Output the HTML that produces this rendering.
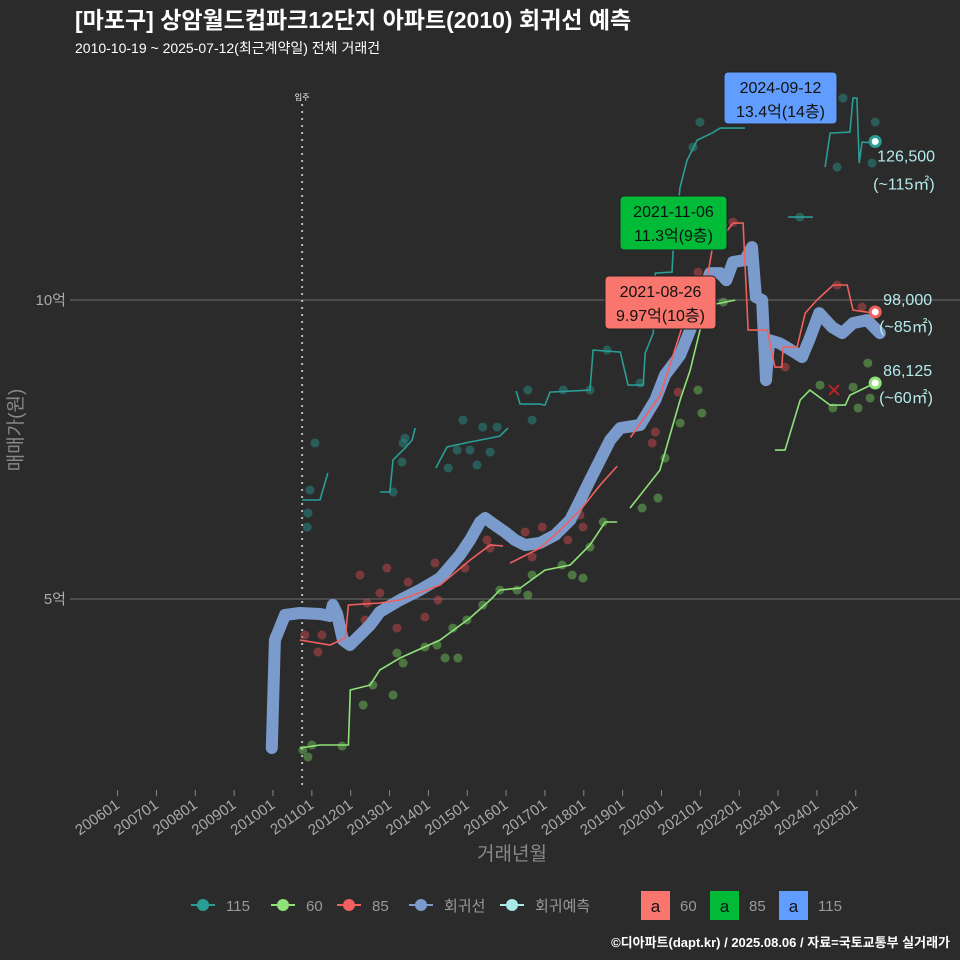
<!DOCTYPE html>
<html><head><meta charset="utf-8">
<style>
html,body{margin:0;padding:0;background:#2b2b2b;}
svg{display:block;font-family:"Liberation Sans","Noto Sans CJK KR",sans-serif;}
</style></head>
<body>
<svg id="chart" width="960" height="960" viewBox="0 0 960 960">
<rect width="960" height="960" fill="#2b2b2b"/>
<text x="75" y="28" fill="#ffffff" font-size="23" font-weight="bold">[마포구] 상암월드컵파크12단지 아파트(2010) 회귀선 예측</text>
<text x="75" y="53" fill="#ffffff" font-size="14">2010-10-19 ~ 2025-07-12(최근계약일) 전체 거래건</text>
<g id="grid"></g>
<g id="marks"></g>
<text x="22" y="430" fill="#888" font-size="19" transform="rotate(-90 22 430)" text-anchor="middle">매매가(원)</text>
<text x="512" y="860" fill="#888" font-size="19" text-anchor="middle">거래년월</text>
<g id="legend"></g>
<text x="950" y="947" fill="#ffffff" font-size="13" font-weight="bold" text-anchor="end">©디아파트(dapt.kr) / 2025.08.06 / 자료=국토교통부 실거래가</text>
</svg>
<script>
// ---- data (year as decimal, value in 만원) ----
const xTickYears=[2006,2007,2008,2009,2010,2011,2012,2013,2014,2015,2016,2017,2018,2019,2020,2021,2022,2023,2024,2025];
const yTickValues=[50000,100000];
const yTickLabels=["5억","10억"];
const regT=[2009.97,2010.05,2010.31,2010.69,2011.21,2011.47,2011.54,2011.65,2011.80,2011.98,2012.24,2012.50,2012.75,2013.27,2013.78,2014.30,2014.81,2015.07,2015.33,2015.46,2015.71,2015.97,2016.23,2016.49,2016.87,2017.26,2017.65,2017.91,2018.16,2018.42,2018.68,2018.94,2019.45,2019.84,2020.09,2020.48,2020.74,2020.99,2021.25,2021.51,2021.67,2021.84,2022.15,2022.33,2022.43,2022.59,2022.69,2022.77,2023.03,2023.21,2023.62,2023.80,2024.06,2024.39,2024.65,2024.93,2025.29,2025.62];
const regV=[25080,43140,47320,47660,47490,47160,49000,47490,43140,42310,43980,45650,47830,49830,51500,53510,57360,59870,62880,63540,62370,61200,59870,59030,59360,60700,63210,66560,69900,73240,76590,78600,79100,83280,87460,90800,94980,100000,104500,104500,103330,106340,106680,108850,100490,100000,86610,93300,92800,92130,90460,93300,97810,95470,94470,96140,96640,94470];
const t115=[2010.75,2011.21,2011.41,null,2012.75,2013.01,2013.09,2013.40,2013.58,2013.66,null,2014.19,2014.48,2015.07,2015.59,2015.84,2016.05,null,2016.26,2016.36,2016.87,2017.00,2017.13,2018.16,2018.24,2018.94,2019.14,2019.53,2019.58,2019.79,2019.84,2020.27,2020.30,2020.48,2020.66,2020.92,2021.30,2021.51,2022.15,null,2023.26,2023.90,null,2024.21,2024.34,2024.85,2024.93,2025.03,2025.09,2025.16,2025.50];
const v115=[66550,66550,71060,null,67890,67890,73240,75250,76580,78590,null,71900,75410,76250,76910,77250,78590,null,84770,82600,82600,82430,84600,84940,91630,91290,85770,85770,91120,94470,104500,104670,108350,118880,123390,126740,127910,128750,128750,null,113860,113860,null,122220,127910,128080,133760,133760,122890,126400,126240];
const t85=[2010.69,2011.47,2011.86,2011.94,2012.75,2013.27,2014.30,2015.07,2015.59,2015.92,null,2016.10,2016.87,2017.39,2017.91,2018.42,2018.86,null,2019.20,2019.97,2020.53,2021.20,2021.30,2021.84,2022.10,2022.23,2022.72,2022.92,2023.10,2023.13,2023.49,2023.70,2024.00,2024.42,2024.78,2024.93,2025.45];
const v85=[43140,42310,43470,49000,49330,49830,52330,56510,59030,58860,null,56010,58520,61530,64870,69050,72230,null,77000,84100,95470,104500,108350,112860,112860,94970,94970,88780,88780,92130,92130,97810,100000,102500,102500,98320,97810];
const t60=[2010.69,2011.21,2011.94,2011.99,2012.50,2012.75,2013.27,2014.30,2015.07,2015.59,2015.84,2016.36,2017.00,2017.65,2018.16,2018.55,2018.86,null,2019.19,2019.96,2020.48,2020.74,2020.99,2021.25,2021.90,null,2022.92,2023.18,2023.57,2023.82,2024.34,2024.73,2024.85,2025.50];
const v60=[25080,25580,25580,34780,35610,38120,40130,43140,46820,49830,51500,51830,54840,55680,59030,62870,62870,null,65200,71560,83270,88280,94970,99150,99980,null,74900,74900,83270,84940,82430,82430,84100,86120];
const d115T=[2011.08,2010.95,2010.90,2010.88,2013.40,2013.35,2013.32,2013.09,2014.89,2015.40,2015.77,2014.74,2015.07,2015.59,2014.51,2015.25,2016.67,2016.56,2017.47,2018.16,2018.60,2019.45,2020.99,2020.81,2024.67,2025.50,2024.52,2025.42,2023.56];
const d115V=[76080,68220,64370,62030,76910,76080,72900,67890,79920,78750,78750,74910,74910,74570,71900,72400,79920,84940,84940,84940,91630,86110,129750,125570,133760,129750,122220,122890,113860];
const d85T=[2012.24,2012.93,2014.17,2013.48,2012.75,2012.42,2012.37,2010.82,2011.26,2011.16,2013.19,2013.91,2014.25,2014.94,2015.51,2015.59,2016.49,2016.93,2016.67,2017.59,2017.98,2017.90,2018.55,2019.76,2019.84,2019.91,2020.43,2020.94,2021.84,2023.18,2024.52,2025.16];
const d85V=[54010,55180,56010,52840,51000,49320,46480,43970,43970,41130,45140,46980,49830,55180,59860,58520,61200,62030,57020,59860,62030,64040,74570,76080,77920,84600,84600,104670,113030,88780,102500,98820];
const d60T=[2010.77,2011.00,2010.90,2011.78,2012.32,2012.57,2013.09,2013.19,2013.35,2013.91,2014.22,2014.43,2014.76,2014.63,2014.99,2015.40,2015.84,2016.28,2016.56,2016.67,2017.44,2017.70,2017.98,2018.16,2018.50,2019.50,2019.91,2020.09,2020.48,2020.94,2021.59,2025.31,2024.08,2024.93,2025.06,2024.41,2025.37,2021.04];
const d60V=[24750,25580,23580,25410,32270,35610,33940,40960,39290,41970,42300,40130,40130,45140,46480,48990,51500,51500,50660,54010,55680,54010,53500,58690,62870,65210,66880,73570,79420,84940,99650,89450,85770,85440,81930,81930,83600,81090];
const lastT=[2025.50,2025.50,2025.50];
const lastV=[126500,98000,86125];
const lastLabels=["126,500","98,000","86,125"];
const lastAreas=["(~115㎡)","(~85㎡)","(~60㎡)"];
const cancelT=[2024.44];
const cancelV=[84940];
const moveInYear=2010.75;

// ---- scales ----
const X=t=>117.6+(t-2006)*38.85;
const Y=v=>898-v*0.00598;
const NS="http://www.w3.org/2000/svg";
function mk(tag,attrs,parent){const e=document.createElementNS(NS,tag);for(const k in attrs)e.setAttribute(k,attrs[k]);parent.appendChild(e);return e;}
const grid=document.getElementById('grid'),marks=document.getElementById('marks'),leg=document.getElementById('legend');

yTickValues.forEach((v,i)=>{
  const l=mk('line',{x1:70,x2:960,y1:Y(v),y2:Y(v),stroke:'#6e6e6e','stroke-width':1},grid);
  
  
  const t=mk('text',{x:66,y:Y(v)+5,fill:'#aaa','font-size':15,'text-anchor':'end'},grid);
  t.textContent=yTickLabels[i];
  
  
});
xTickYears.forEach(y=>{
  const x=X(y);
  const tk=mk('line',{x1:x,x2:x,y1:790,y2:796,stroke:'#888'},grid);
  
  
  const t=mk('text',{x:x+3,y:807,fill:'#aaa','font-size':15,'text-anchor':'end',transform:`rotate(-35 ${x+3} 807)`},grid);
  t.textContent=y+'01';
  
  
});
// move-in line
const mx=X(moveInYear);
const ml=mk('line',{x1:mx,x2:mx,y1:104,y2:790,stroke:'#bbb','stroke-width':2,'stroke-dasharray':'2 5'},grid);


const mt=mk('text',{x:mx,y:100,fill:'#fff','font-size':8,'text-anchor':'middle'},grid);
mt.textContent='입주';



function pathFrom(T,V){let d='',pen=false;for(let i=0;i<T.length;i++){if(T[i]===null){pen=false;continue;}d+=(pen?'L':'M')+X(T[i]).toFixed(1)+','+Y(V[i]).toFixed(1);pen=true;}return d;}
function dots(T,V,color,name){T.forEach((t,i)=>{const c=mk('circle',{cx:X(t),cy:Y(V[i]),r:4.5,fill:color,'fill-opacity':0.5},marks);});}
dots(d115T,d115V,'#2a8f88','dot-115');
dots(d85T,d85V,'#c9494c','dot-85');
dots(d60T,d60V,'#6fbf5a','dot-60');
const reg=mk('path',{d:pathFrom(regT,regV),fill:'none',stroke:'#7b9bcc','stroke-width':12,'stroke-linejoin':'round','stroke-linecap':'round'},marks);


[[t115,v115,'#2a9d96','line-115'],[t85,v85,'#f0605e','line-85'],[t60,v60,'#8fe27a','line-60']].forEach(s=>{
  const p=mk('path',{d:pathFrom(s[0],s[1]),fill:'none',stroke:s[2],'stroke-width':1.6},marks);
  
  
});
cancelT.forEach((t,i)=>{const x=X(t),y=Y(cancelV[i]);const p=mk('path',{d:`M${x-5},${y-5}L${x+5},${y+5}M${x-5},${y+5}L${x+5},${y-5}`,stroke:'#b22',"stroke-width":2},marks);});
const endCols=['#2a9d96','#f0605e','#8fe27a'];
lastT.forEach((t,i)=>{
  const c=mk('circle',{cx:X(t),cy:Y(lastV[i]),r:5,fill:'#fff',stroke:endCols[i],'stroke-width':3},marks);
  
  
  const dy=i===0?[20,48]:[-7,20];
  const dx=i===0?2:8;
  const a=mk('text',{x:X(t)+dx,y:Y(lastV[i])+dy[0],fill:'#b5eaea','font-size':16},marks);
  a.textContent=lastLabels[i];
  
  
  const b=mk('text',{x:X(t)+dx-4,y:Y(lastV[i])+dy[1],fill:'#b5eaea','font-size':16},marks);
  b.textContent=lastAreas[i];
  
  
});
// annotation boxes
[[724,72,113,52,'#619cff','2024-09-12','13.4억(14층)','max-115-annotation'],[620,196,107,54,'#00ba38','2021-11-06','11.3억(9층)','max-85-annotation'],[605,276,111,53,'#f8766d','2021-08-26','9.97억(10층)','max-60-annotation']].forEach(a=>{
  const g=mk('g',{},marks);
  
  
  mk('rect',{x:a[0],y:a[1],width:a[2],height:a[3],rx:4,fill:a[4],stroke:'#222'},g);
  const t1=mk('text',{x:a[0]+a[2]/2,y:a[1]+21,'font-size':16,'text-anchor':'middle',fill:'#111'},g);t1.textContent=a[5];
  const t2=mk('text',{x:a[0]+a[2]/2,y:a[1]+45,'font-size':16,'text-anchor':'middle',fill:'#111'},g);t2.textContent=a[6];
});
// legend
[[203,'#2a9d96','115'],[283,'#8fe27a','60'],[349,'#f0605e','85'],[421,'#7b9bcc','회귀선'],[512,'#a8e8e8','회귀예측']].forEach(l=>{
  const g=mk('g',{},leg);
  
  
  mk('line',{x1:l[0]-12,x2:l[0]+12,y1:905,y2:905,stroke:l[1],'stroke-width':2},g);
  mk('circle',{cx:l[0],cy:905,r:6,fill:l[1]},g);
  const t=mk('text',{x:l[0]+23,y:911,fill:'#999','font-size':15},g);t.textContent=l[2];
});
[[641,'#f8766d','60'],[710,'#00ba38','85'],[779,'#619cff','115']].forEach(l=>{
  const g=mk('g',{},leg);
  
  
  mk('rect',{x:l[0],y:891,width:29,height:29,fill:l[1]},g);
  const a=mk('text',{x:l[0]+14.5,y:912,fill:'#111','font-size':17,'text-anchor':'middle'},g);a.textContent='a';
  const t=mk('text',{x:l[0]+39,y:911,fill:'#999','font-size':15},g);t.textContent=l[2];
});
</script>
</body></html>
